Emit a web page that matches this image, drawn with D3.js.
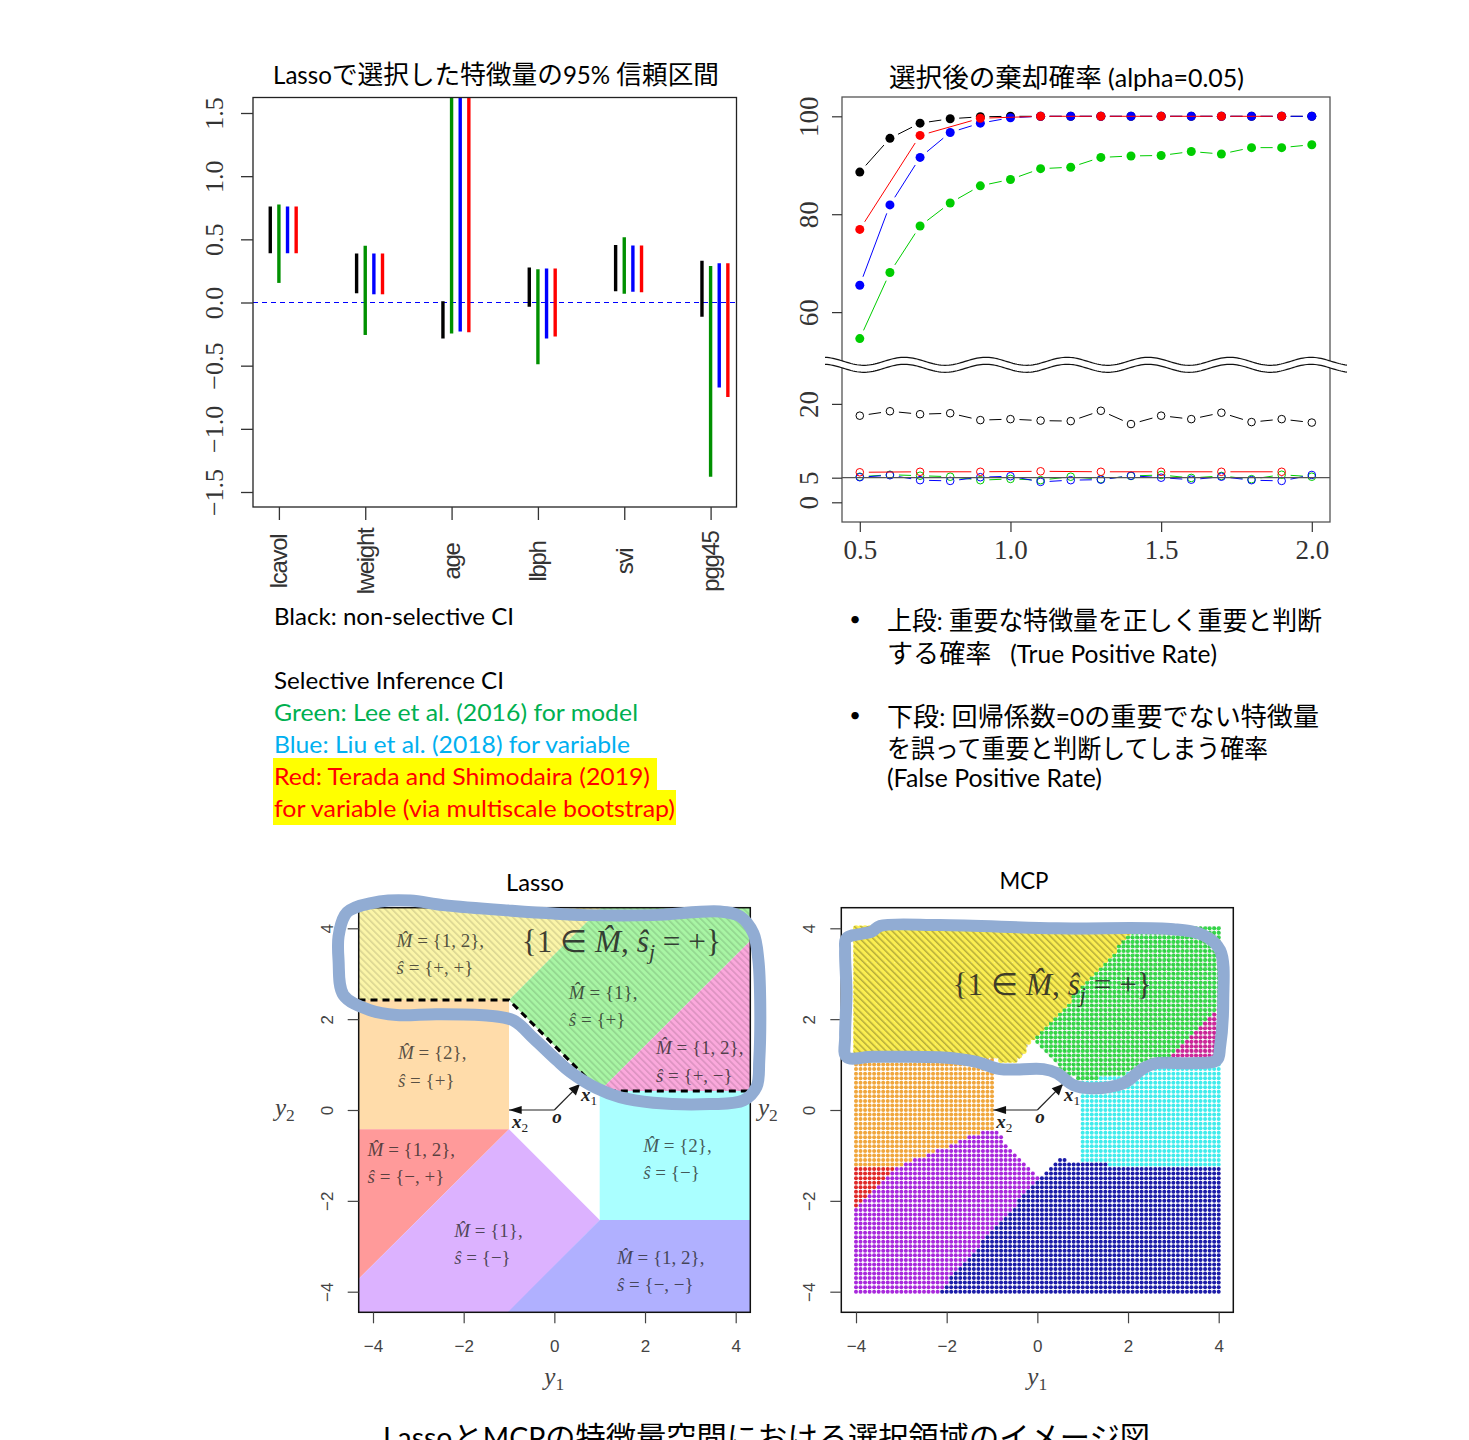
<!DOCTYPE html>
<html>
<head>
<meta charset="utf-8">
<script src="https://cdn.jsdelivr.net/npm/d3@7"></script>
<style>
  html, body { margin: 0; background: #fff; overflow: hidden; }
  svg { display: block; }
  .slide { font-family: "Lato", "Noto Sans CJK JP", sans-serif; }
  .rnum { font-family: "Liberation Serif", serif; }
  .rsans { font-family: "Liberation Sans", sans-serif; }
  .math { font-family: "Liberation Serif", serif; }
</style>
</head>
<body>
<svg id="chart" width="1469" height="1440"></svg>
<script>
// ---- Confidence intervals (top left) ----
const features = ["lcavol", "lweight", "age", "lbph", "svi", "pgg45"];
const ciOffsets = [-0.1, 0, 0.1, 0.2];
const ciColors = ["#000000", "#009000", "#0000ff", "#ff0000"];
const ciBlackLow = [0.39, 0.073, -0.285, -0.034, 0.09, -0.113];
const ciBlackHigh = [0.76, 0.387, 0.01, 0.277, 0.455, 0.33];
const ciGreenLow = [0.155, -0.257, -0.245, -0.489, 0.07, -1.379];
const ciGreenHigh = [0.775, 0.45, 1.9, 0.263, 0.517, 0.288];
const ciBlueLow = [0.39, 0.065, -0.23, -0.285, 0.085, -0.672];
const ciBlueHigh = [0.76, 0.387, 1.9, 0.27, 0.452, 0.31];
const ciRedLow = [0.39, 0.065, -0.235, -0.27, 0.082, -0.749];
const ciRedHigh = [0.76, 0.387, 1.9, 0.27, 0.452, 0.31];
const ciTicks = [-1.5, -1, -0.5, 0, 0.5, 1, 1.5];

// ---- Rejection rates (top right) ----
const alphaAll = [0.5, 0.6, 0.7, 0.8, 0.9, 1.0, 1.1, 1.2, 1.3, 1.4, 1.5, 1.6, 1.7, 1.8, 1.9, 2.0];
const alphaRed = [0.5, 0.7, 0.9, 1.1, 1.3, 1.5, 1.7, 1.9];
const tprBlack = [88.6, 95.5, 98.6, 99.5, 99.9, 100, 100, 100, 100, 100, 100, 100, 100, 100, 100, 100];
const tprGreen = [54.6, 68.1, 77.6, 82.3, 85.8, 87.1, 89.3, 89.6, 91.6, 91.9, 92.0, 92.8, 92.3, 93.6, 93.6, 94.2];
const tprBlue = [65.5, 81.9, 91.6, 96.7, 98.6, 99.7, 100, 100, 100, 100, 100, 100, 100, 100, 100, 100];
const tprRed = [76.9, 96.1, 99.6, 100, 100, 100, 100, 100];
const fprBlack = [17.6, 18.5, 17.9, 18.1, 16.7, 16.9, 16.6, 16.5, 18.6, 15.9, 17.6, 16.9, 18.2, 16.3, 16.9, 16.2];
const fprGreen = [5.2, 5.6, 5.4, 5.2, 4.5, 4.75, 4.5, 5.2, 4.7, 5.35, 5.55, 4.95, 5.35, 4.7, 5.6, 5.2];
const fprBlue = [5.1, 5.5, 4.5, 4.35, 5.1, 5.3, 4.15, 4.5, 4.6, 5.4, 5.0, 4.6, 5.2, 4.5, 4.35, 5.55];
const fprRed = [6.1, 6.2, 6.2, 6.3, 6.2, 6.2, 6.2, 6.2];
const rateTicks = [0, 5, 20, 60, 80, 100];
const alphaTicks = [0.5, 1.0, 1.5, 2.0];

// ---- Lasso regions, [y1, y2] ----
const regionTicks = [-4, -2, 0, 2, 4];
const lassoYellow = [[-4.32, 2.42], [-1, 2.42], [1.03, 4.454], [-4.32, 4.454]];
const lassoGreen = [[-1, 2.42], [1.03, 4.454], [4.32, 4.454], [4.32, 3.72], [1, 0.42]];
const lassoPink = [[1, 0.42], [4.32, 0.42], [4.32, 3.72]];
const lassoOrange = [[-4.32, 2.42], [-1, 2.42], [-1, -0.425], [-4.32, -0.425]];
const lassoRed = [[-4.32, -0.425], [-1, -0.425], [-4.32, -3.72]];
const lassoPurple = [[-1, -0.425], [1, -2.42], [-1, -4.454], [-4.32, -4.454], [-4.32, -3.72]];
const lassoBlue = [[1, -2.42], [4.32, -2.42], [4.32, -4.454], [-1.03, -4.454]];
const lassoCyan = [[1, -2.42], [4.32, -2.42], [4.32, 0.42], [1, 0.42]];
const lassoDash = [[-4.32, 2.42], [-1, 2.42], [1, 0.42], [4.32, 0.42]];
const lassoOutline = [[-4.51, 4.40], [-3.85, 4.59], [-3.18, 4.61], [-2.45, 4.51], [-1.12, 4.40], [0.71, 4.29], [2.18, 4.29], [3.65, 4.37], [4.10, 4.26], [4.39, 3.89], [4.50, 3.30], [4.54, 2.42], [4.52, 1.10], [4.46, 0.51], [4.17, 0.21], [3.43, 0.13], [2.18, 0.16], [1.45, 0.28], [0.93, 0.48], [0.35, 0.84], [0.05, 1.10], [-0.46, 1.58], [-0.90, 1.97], [-1.49, 2.08], [-2.60, 2.11], [-3.48, 2.09], [-4.07, 2.20], [-4.65, 2.53], [-4.76, 3.30], [-4.76, 3.82], [-4.62, 4.29]];
// left y1, y2 of first line, y2 of second line, model set, sign set
const lassoLabels = [
  [-3.48, 3.74, 3.15, "{1, 2},", "{+, +}"],
  [0.32, 2.60, 2.0, "{1},", "{+}"],
  [2.24, 1.39, 0.77, "{1, 2},", "{+, −}"],
  [-3.45, 1.26, 0.66, "{2},", "{+}"],
  [-4.12, -0.86, -1.47, "{1, 2},", "{−, +}"],
  [1.96, -0.77, -1.37, "{2},", "{−}"],
  [-2.21, -2.66, -3.24, "{1},", "{−}"],
  [1.38, -3.24, -3.83, "{1, 2},", "{−, −}"]
];

// ---- MCP regions, [y1, y2] ----
const mcpGrid = d3.range(-40, 41).map(d => d / 10);
const mcpYellow = [[-4.05, 4.05], [2.2, 4.05], [-0.07, 1.54], [-0.15, 1.56], [-0.25, 1.3], [-0.45, 1.05], [-0.75, 1.05], [-0.95, 1.13], [-4.05, 1.13]];
const mcpGreen = [[2.2, 4.05], [4.05, 4.05], [4.05, 2.3], [3, 1.2], [2.4, 0.9], [1, 0.62], [0.57, 0.81], [-0.07, 1.54]];
const mcpPink = [[4.05, 2.3], [4.05, 1.2], [3, 1.2]];
const mcpOrange = [[-4.05, 1.13], [-0.95, 1.13], [-0.95, -0.42], [-1.19, -0.48], [-1.85, -0.73], [-2.15, -0.88], [-2.63, -1.06], [-3.07, -1.26], [-4.05, -1.26]];
const mcpRed = [[-4.05, -1.26], [-3.07, -1.26], [-4.05, -2.25]];
const mcpPurple = [[-3.07, -1.26], [-2.63, -1.06], [-2.15, -0.88], [-1.85, -0.73], [-1.19, -0.48], [-0.96, -0.42], [-0.6, -0.81], [-0.31, -1.14], [0.06, -1.47], [-2.22, -4.05], [-4.05, -4.05], [-4.05, -2.25]];
const mcpNavy = [[0.06, -1.47], [0.43, -1.1], [0.46, -1.03], [0.61, -1.03], [0.68, -1.15], [1.49, -1.15], [1.57, -1.27], [4.05, -1.27], [4.05, -4.05], [-2.22, -4.05]];
const mcpCyan = [[0.94, -1.15], [1.49, -1.15], [1.57, -1.27], [4.05, -1.27], [4.05, 1.2], [3, 1.2], [2.4, 0.9], [1, 0.62], [0.94, 0.62]];
const mcpOutline = [[-4.21, 3.78], [-3.65, 3.93], [-3.47, 4.05], [-2.15, 4.07], [0.43, 4.00], [3.00, 3.98], [3.66, 3.85], [4.03, 3.52], [4.10, 2.42], [4.03, 1.39], [3.96, 1.10], [3.37, 1.03], [2.63, 1.03], [2.34, 0.92], [1.90, 0.59], [1.16, 0.48], [0.79, 0.55], [0.43, 0.81], [0.13, 0.90], [-0.82, 0.90], [-1.34, 1.06], [-2.15, 1.16], [-3.62, 1.17], [-4.21, 1.17], [-4.24, 1.61], [-4.21, 2.57], [-4.24, 3.52]];

const svg = d3.select("#chart");
const defs = svg.append("defs");

// ---- Step 1: helpers ----
// Japanese runs keep the full size, latin runs go a bit smaller
function slideText(x, y, str, size, width, fill = "#000", anchor = "start", latin = 0.94) {
    const t = svg.append("text")
        .attr("class", "slide")
        .attr("x", x)
        .attr("y", y)
        .attr("fill", fill)
        .attr("text-anchor", anchor)
        .attr("xml:space", "preserve")
        .style("white-space", "pre");
    t.selectAll("tspan")
        .data(str.split(/([\x00-\x7f]+)/).filter(d => d.length))
        .join("tspan")
        .attr("font-size", d => /[\x00-\x7f]/.test(d[0]) ? size * latin : size)
        .text(d => d);
    if (width) t.attr("textLength", width).attr("lengthAdjust", "spacingAndGlyphs");
    return t;
}

function styleAxis(sel, color, w) {
    sel.select(".domain").remove();
    sel.selectAll(".tick line").attr("stroke", color).attr("stroke-width", w);
    sel.selectAll(".tick text").attr("fill", color);
}

// ---- Step 2: top left CI plot ----
const xCi = d3.scaleLinear().domain([-0.3, 5.3]).range([253, 736.5]);
const yCi = d3.scaleLinear().domain([-1.5, 1.5]).range([492, 113]);
const ciBox = { top: 97.5, bottom: 507 };

defs.append("clipPath").attr("id", "ciClip")
    .append("rect")
    .attr("x", xCi.range()[0])
    .attr("y", ciBox.top)
    .attr("width", xCi.range()[1] - xCi.range()[0])
    .attr("height", ciBox.bottom - ciBox.top);

const ciPlot = svg.append("g").attr("class", "ci");
const ciSeries = [
    [ciBlackLow, ciBlackHigh],
    [ciGreenLow, ciGreenHigh],
    [ciBlueLow, ciBlueHigh],
    [ciRedLow, ciRedHigh]
];

ciPlot.append("line")
    .attr("x1", xCi.range()[0])
    .attr("x2", xCi.range()[1])
    .attr("y1", yCi(0))
    .attr("y2", yCi(0))
    .attr("stroke", "#0000ff")
    .attr("stroke-width", 1)
    .attr("stroke-dasharray", "5,4");

ciSeries.forEach((s, k) => {
    ciPlot.append("g")
        .attr("clip-path", "url(#ciClip)")
        .selectAll("line")
        .data(features)
        .join("line")
        .attr("x1", (d, i) => xCi(i + ciOffsets[k]))
        .attr("x2", (d, i) => xCi(i + ciOffsets[k]))
        .attr("y1", (d, i) => yCi(s[0][i]))
        .attr("y2", (d, i) => yCi(s[1][i]))
        .attr("stroke", ciColors[k])
        .attr("stroke-width", 3.4);
});

ciPlot.append("rect")
    .attr("x", xCi.range()[0])
    .attr("y", ciBox.top)
    .attr("width", xCi.range()[1] - xCi.range()[0])
    .attr("height", ciBox.bottom - ciBox.top)
    .attr("fill", "none")
    .attr("stroke", "#222")
    .attr("stroke-width", 1.3);

const ciY = ciPlot.append("g")
    .attr("transform", `translate(${xCi.range()[0]},0)`)
    .call(d3.axisLeft(yCi).tickValues(ciTicks).tickSize(12).tickFormat(d3.format(".1f")));
styleAxis(ciY, "#333", 1.3);
ciY.selectAll(".tick text")
    .attr("class", "rnum")
    .attr("font-size", 26)
    .attr("transform", "rotate(-90)")
    .attr("x", 0)
    .attr("y", -30)
    .attr("dy", 0)
    .attr("text-anchor", "middle");

const ciX = ciPlot.append("g")
    .attr("transform", `translate(0,${ciBox.bottom})`)
    .call(d3.axisBottom(d3.scalePoint().domain(features).range([xCi(0), xCi(5)])).tickSize(13));
styleAxis(ciX, "#333", 1.3);
ciX.selectAll(".tick text")
    .attr("class", "rsans")
    .attr("font-size", 24)
    .attr("letter-spacing", -1.3)
    .attr("transform", "rotate(-90)")
    .attr("x", -54.5)
    .attr("y", 8)
    .attr("dy", 0)
    .attr("text-anchor", "middle");

slideText(273, 84, "Lassoで選択した特徴量の95% 信頼区間", 25.6, 446);

// ---- Step 3: top right rejection rate plot ----
const xRate = d3.scaleLinear().domain([0.5, 2.0]).range([859.8, 1311.8]);
// broken axis: 27.9 and 49.2 meet at the wavy band
const yRate = d3.scaleLinear().domain([0, 27.9, 49.2, 100]).range([502.3, 365, 365, 116.3]);
const ratePlot = svg.append("g").attr("class", "rate");
const rateBox = { left: 842, right: 1330, top: 97, bottom: 522 };

function rateLine(xs, vs, color) {
    const pts = xs.map((d, i) => [xRate(d), yRate(vs[i])]);
    const gap = 9;
    // R type "b": the line stops short of every point
    ratePlot.append("g")
        .selectAll("line")
        .data(d3.pairs(pts).filter(p => Math.hypot(p[1][0] - p[0][0], p[1][1] - p[0][1]) > 2 * gap))
        .join("line")
        .each(function(p) {
            const dx = p[1][0] - p[0][0], dy = p[1][1] - p[0][1];
            const len = Math.hypot(dx, dy);
            d3.select(this)
                .attr("x1", p[0][0] + dx / len * gap)
                .attr("y1", p[0][1] + dy / len * gap)
                .attr("x2", p[1][0] - dx / len * gap)
                .attr("y2", p[1][1] - dy / len * gap);
        })
        .attr("stroke", color)
        .attr("stroke-width", 1);
}

function ratePoints(xs, vs, color, filled) {
    ratePlot.append("g")
        .selectAll("circle")
        .data(xs)
        .join("circle")
        .attr("cx", d => xRate(d))
        .attr("cy", (d, i) => yRate(vs[i]))
        .attr("r", filled ? 4.5 : 3.8)
        .attr("fill", filled ? color : "none")
        .attr("stroke", filled ? "none" : color)
        .attr("stroke-width", 1);
}

const rateSeries = [
    [alphaAll, tprBlack, fprBlack, "#000000"],
    [alphaAll, tprGreen, fprGreen, "#00cd00"],
    [alphaAll, tprBlue, fprBlue, "#0000ff"],
    [alphaRed, tprRed, fprRed, "#ff0000"]
];
rateSeries.forEach(s => {
    rateLine(s[0], s[1], s[3]);
    rateLine(s[0], s[2], s[3]);
    ratePoints(s[0], s[1], s[3], true);
    ratePoints(s[0], s[2], s[3], false);
});

ratePlot.append("line")
    .attr("x1", rateBox.left)
    .attr("x2", rateBox.right)
    .attr("y1", yRate(5))
    .attr("y2", yRate(5))
    .attr("stroke", "#555")
    .attr("stroke-width", 1.3);

ratePlot.append("rect")
    .attr("x", rateBox.left)
    .attr("y", rateBox.top)
    .attr("width", rateBox.right - rateBox.left)
    .attr("height", rateBox.bottom - rateBox.top)
    .attr("fill", "none")
    .attr("stroke", "#555")
    .attr("stroke-width", 1.3);

const rateY = ratePlot.append("g")
    .attr("transform", `translate(${rateBox.left},0)`)
    .call(d3.axisLeft(yRate).tickValues(rateTicks).tickSize(10).tickFormat(d3.format("d")));
styleAxis(rateY, "#333", 1.2);
rateY.selectAll(".tick text")
    .attr("class", "rnum")
    .attr("font-size", 27)
    .attr("transform", "rotate(-90)")
    .attr("x", 0)
    .attr("y", -24)
    .attr("dy", 0)
    .attr("text-anchor", "middle");

const rateX = ratePlot.append("g")
    .attr("transform", `translate(0,${rateBox.bottom})`)
    .call(d3.axisBottom(xRate).tickValues(alphaTicks).tickSize(10).tickFormat(d3.format(".1f")));
styleAxis(rateX, "#333", 1.2);
rateX.selectAll(".tick text")
    .attr("class", "rnum")
    .attr("font-size", 27)
    .attr("y", 37)
    .attr("dy", 0);

// axis break: white band between two wavy lines
const breakXs = d3.range(825, 1348, 2);
const breakTop = x => 361.3 - 4 * Math.cos((x - 904.5) / 81.3 * 2 * Math.PI);
ratePlot.append("path")
    .attr("d", d3.area().x(d => d).y0(breakTop).y1(d => breakTop(d) + 7)(breakXs))
    .attr("fill", "#fff");
[0, 7].forEach(off => {
    ratePlot.append("path")
        .attr("d", d3.line().x(d => d).y(d => breakTop(d) + off)(breakXs))
        .attr("fill", "none")
        .attr("stroke", "#111")
        .attr("stroke-width", 1.2);
});

slideText(889, 87, "選択後の棄却確率 (alpha=0.05)", 25.6, 355);

// ---- Step 4: notes under the plots ----
svg.append("rect").attr("x", 273).attr("y", 758).attr("width", 384).attr("height", 33).attr("fill", "#ffff00");
svg.append("rect").attr("x", 273).attr("y", 790).attr("width", 403).attr("height", 35).attr("fill", "#ffff00");
slideText(274, 625, "Black: non-selective CI", 25, 240);
slideText(274, 689, "Selective Inference CI", 25, 230);
slideText(274, 721, "Green: Lee et al. (2016) for model", 25, 364, "#00b050");
slideText(274, 753, "Blue: Liu et al. (2018) for variable", 25, 356, "#00b0f0");
slideText(274, 785, "Red: Terada and Shimodaira (2019)", 25, 376, "#ff0000");
slideText(274, 817, "for variable (via multiscale bootstrap)", 25, 401, "#ff0000");

slideText(855, 626, "•", 20, null, "#000", "middle");
slideText(855, 722, "•", 20, null, "#000", "middle");
slideText(887, 630, "上段: 重要な特徴量を正しく重要と判断", 25.6, 435);
slideText(887, 663, "する確率   (True Positive Rate)", 25.6, 330);
slideText(887, 726, "下段: 回帰係数=0の重要でない特徴量", 25.6, 432);
slideText(887, 758, "を誤って重要と判断してしまう確率", 25.6, 381);
slideText(887, 787, "(False Positive Rate)", 25.6, 215);

// ---- Step 5: bottom plots shared bits ----
const yRegion = d3.scaleLinear().domain([-4, 4]).range([1291.7, 928.3]);
const xLasso = d3.scaleLinear().domain([-4, 4]).range([373, 735.7]);
const xMcp = d3.scaleLinear().domain([-4, 4]).range([856, 1218.7]);
const regionBox = { top: 907.7, bottom: 1312.3 };

const hatch = (id, opacity, barWidth) => {
    const p = defs.append("pattern")
        .attr("id", id)
        .attr("patternUnits", "userSpaceOnUse")
        .attr("width", 4.7)
        .attr("height", 4.7)
        .attr("patternTransform", "rotate(-45)");
    p.append("rect")
        .attr("width", barWidth)
        .attr("height", 4.7)
        .attr("fill", "#000")
        .attr("fill-opacity", opacity);
};
hatch("hatchLasso", 0.13, 1.6);
hatch("hatchMcp", 0.28, 1.5);
hatch("hatchMcpSoft", 0.1, 1.5);

function mathLine(g, x, y, parts, size, fill, opacity) {
    const t = g.append("text")
        .attr("class", "math")
        .attr("x", x)
        .attr("y", y)
        .attr("dy", "0.35em")
        .attr("font-size", size)
        .attr("fill", fill)
        .attr("fill-opacity", opacity);
    parts.forEach(p => {
        const s = t.append("tspan").text(p.text);
        if (p.italic) s.attr("font-style", "italic");
        if (p.bold) s.attr("font-weight", "bold");
        if (p.sub) s.attr("font-size", size * 0.7).attr("dy", size * 0.22);
        if (p.up) s.attr("dy", -size * 0.22);
    });
    return t;
}

const setFormula = [
    { text: "{1 ∈ " }, { text: "M\u0302", italic: true }, { text: ",  " },
    { text: "s\u0302", italic: true }, { text: "j", italic: true, sub: true },
    { text: " = +}", up: true }
];

function regionPlot(x, frameLeft, frameRight, outline, outlineWidth) {
    const g = svg.append("g");
    const line = d3.line().x(d => x(d[0])).y(d => yRegion(d[1]));
    g.line = line;

    g.drawFrame = () => {
        g.append("rect")
            .attr("x", frameLeft)
            .attr("y", regionBox.top)
            .attr("width", frameRight - frameLeft)
            .attr("height", regionBox.bottom - regionBox.top)
            .attr("fill", "none")
            .attr("stroke", "#111")
            .attr("stroke-width", 1.5);

        const ax = g.append("g")
            .attr("transform", `translate(0,${regionBox.bottom})`)
            .call(d3.axisBottom(x).tickValues(regionTicks).tickSize(11).tickFormat(d3.format("d")));
        styleAxis(ax, "#444", 1.2);
        ax.selectAll(".tick text")
            .attr("class", "rsans")
            .attr("font-size", 17)
            .attr("y", 39.5)
            .attr("dy", 0);

        const ay = g.append("g")
            .attr("transform", `translate(${frameLeft},0)`)
            .call(d3.axisLeft(yRegion).tickValues(regionTicks).tickSize(11).tickFormat(d3.format("d")));
        styleAxis(ay, "#444", 1.2);
        ay.selectAll(".tick text")
            .attr("class", "rsans")
            .attr("font-size", 17)
            .attr("transform", "rotate(-90)")
            .attr("x", 0)
            .attr("y", -26)
            .attr("dy", 0)
            .attr("text-anchor", "middle");

        mathLine(g, x(0) - 10, 1376, [
            { text: "y", italic: true }, { text: "1", sub: true }
        ], 25, "#444", 1);
    };

    g.drawGuides = (tip1, tip2) => {
        const o = [0, 0];
        [tip1, tip2].forEach(tip => {
            g.append("path").attr("d", line([o, tip])).attr("fill", "none").attr("stroke", "#222").attr("stroke-width", 1.2);
        });
        // arrow heads
        const x2Head = [[tip2[0], 0], [tip2[0] + 0.28, 0.09], [tip2[0] + 0.28, -0.09]];
        const x1Head = [tip1, [tip1[0] - 0.25, tip1[1] - 0.09], [tip1[0] - 0.09, tip1[1] - 0.25]];
        [x2Head, x1Head].forEach(h => {
            g.append("path").attr("d", line(h) + "Z").attr("fill", "#111");
        });
        mathLine(g, x(tip2[0]) + 3, yRegion(-0.25), [
            { text: "x", italic: true, bold: true }, { text: "2", sub: true }
        ], 19, "#222", 1);
        mathLine(g, x(tip1[0]) + 1, yRegion(0.35), [
            { text: "x", italic: true, bold: true }, { text: "1", sub: true }
        ], 19, "#222", 1);
        mathLine(g, x(0) - 2, yRegion(-0.14), [
            { text: "o", italic: true, bold: true }
        ], 19, "#222", 1);
    };

    g.drawOutline = () => {
        g.append("path")
            .attr("d", d3.line().x(d => x(d[0])).y(d => yRegion(d[1])).curve(d3.curveCatmullRomClosed.alpha(0.5))(outline))
            .attr("fill", "none")
            .attr("stroke", "#91acd3")
            .attr("stroke-width", outlineWidth)
            .attr("stroke-linejoin", "round");
    };
    return g;
}

// ---- Step 6: Lasso regions ----
const lasso = regionPlot(xLasso, 358.7, 750.3, lassoOutline, 12);

[
    [lassoYellow, "#fbf5a8"], [lassoGreen, "#a8f5a4"], [lassoPink, "#fba8dc"],
    [lassoOrange, "#ffdcaa"], [lassoRed, "#ff9a9a"], [lassoPurple, "#dcb2ff"],
    [lassoBlue, "#b0b0ff"], [lassoCyan, "#aaffff"]
].forEach(r => {
    lasso.append("path").attr("d", lasso.line(r[0]) + "Z").attr("fill", r[1]);
});

lassoLabels.forEach(l => {
    const px = xLasso(l[0]);
    mathLine(lasso, px, yRegion(l[1]), [{ text: "M\u0302", italic: true }, { text: " = " + l[3] }], 19, "#222", 0.75);
    mathLine(lasso, px, yRegion(l[2]), [{ text: "s\u0302", italic: true }, { text: " = " + l[4] }], 19, "#222", 0.75);
});
mathLine(lasso, xLasso(-0.72), yRegion(3.72), setFormula, 31.3, "#222", 0.85);

[lassoYellow, lassoGreen, lassoPink].forEach(r => {
    lasso.append("path").attr("d", lasso.line(r) + "Z").attr("fill", "url(#hatchLasso)");
});

lasso.append("path")
    .attr("d", lasso.line(lassoDash))
    .attr("fill", "none")
    .attr("stroke", "#000")
    .attr("stroke-width", 3)
    .attr("stroke-dasharray", "7,5");

lasso.drawGuides([0.566, 0.57], [-1, 0]);
lasso.drawFrame();
mathLine(lasso, 275, yRegion(0) - 3, [{ text: "y", italic: true }, { text: "2", sub: true }], 25, "#444", 1);
mathLine(lasso, 758, yRegion(0) - 3, [{ text: "y", italic: true }, { text: "2", sub: true }], 25, "#444", 1);
lasso.drawOutline();
slideText(535, 891, "Lasso", 25, 58, "#000", "middle");

// ---- Step 7: MCP point grid ----
const mcp = regionPlot(xMcp, 841.3, 1233.3, mcpOutline, 12);
const mcpRegions = [
    { poly: mcpNavy, color: "#1c1ca8", r: 2 },
    { poly: mcpPurple, color: "#a828dc", r: 2 },
    { poly: mcpRed, color: "#e02828", r: 2 },
    { poly: mcpOrange, color: "#f0a63c", r: 2 },
    { poly: mcpCyan, color: "#40ecec", r: 2 },
    { poly: mcpPink, color: "#d0289c", r: 2.1 },
    { poly: mcpGreen, color: "#38dc4c", r: 2.1 },
    { poly: mcpYellow, color: "#fbee50", r: 3 }
];
const mcpPoints = mcpGrid.flatMap(a => mcpGrid.map(b => {
    const reg = mcpRegions.find(r => d3.polygonContains(r.poly, [a, b]));
    return { y1: a, y2: b, reg };
})).filter(d => d.reg);

mcp.append("g")
    .selectAll("circle")
    .data(mcpPoints)
    .join("circle")
    .attr("cx", d => xMcp(d.y1))
    .attr("cy", d => yRegion(d.y2))
    .attr("r", d => d.reg.r)
    .attr("fill", d => d.reg.color);

mcp.append("path").attr("d", mcp.line(mcpYellow) + "Z").attr("fill", "url(#hatchMcp)");
[mcpGreen, mcpPink].forEach(r => {
    mcp.append("path").attr("d", mcp.line(r) + "Z").attr("fill", "url(#hatchMcpSoft)");
});

mathLine(mcp, xMcp(-1.87), yRegion(2.77), setFormula, 31.3, "#222", 0.85);
mcp.drawGuides([0.566, 0.57], [-0.97, 0]);
mcp.drawFrame();
mcp.drawOutline();
slideText(1024, 889, "MCP", 25, 49, "#000", "middle");

// ---- Step 8: caption, cut by the page edge ----
slideText(383, 1448, "LassoとMCPの特徴量空間における選択領域のイメージ図", 30, 767);
</script>
</body>
</html>
